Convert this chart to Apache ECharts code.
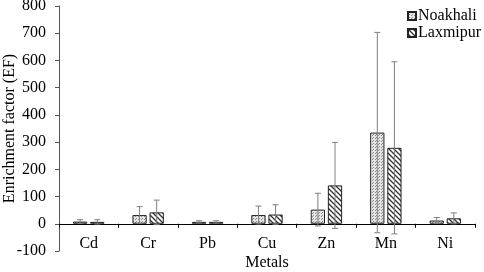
<!DOCTYPE html>
<html>
<head>
<meta charset="utf-8">
<script src="https://cdn.jsdelivr.net/npm/echarts@6/dist/echarts.min.js"></script>
<style>
  html, body { margin: 0; padding: 0; background: #fff; }
  #chart { width: 484px; height: 272px; }
</style>
</head>
<body>
<div id="chart"></div>
<script>
// metals and enrichment factor values
var metals = ['Cd', 'Cr', 'Pb', 'Cu', 'Zn', 'Mn', 'Ni'];
var noakhali = [8, 32, 7, 32, 52, 335, 12];
var noakhaliErr = [7, 31, 4, 33, 60, 368, 11];
var laxmipur = [7, 42, 7, 34, 141, 279, 20];
var laxmipurErr = [8, 45, 4, 36, 158, 316, 20];
var yTicks = [-100, 800, 100]; // min, max, interval

// fill patterns
function dotPattern(){
    var c = document.createElement('canvas');
    c.width = 3; c.height = 3;
    var ctx = c.getContext('2d');
    ctx.fillStyle = '#e6e6e6';
    ctx.fillRect(0, 0, 3, 3);
    ctx.fillStyle = '#8a8a8a';
    ctx.fillRect(0, 0, 1, 1);
    ctx.fillRect(1, 2, 1, 1);
    return c;
}
function hatchPattern(){
    var c = document.createElement('canvas');
    c.width = 5; c.height = 5;
    var ctx = c.getContext('2d');
    ctx.fillStyle = '#ffffff';
    ctx.fillRect(0, 0, 5, 5);
    ctx.strokeStyle = '#333';
    ctx.lineWidth = 1.3;
    ctx.beginPath();
    ctx.moveTo(-1, -1); ctx.lineTo(6, 6);
    ctx.moveTo(-1, 4); ctx.lineTo(1, 6);
    ctx.moveTo(4, -1); ctx.lineTo(6, 1);
    ctx.stroke();
    return c;
}

var font = 'Liberation Serif';

// error bar renderer, side = -1 left bar, +1 right bar
function errorBars(vals, errs, side){
    return function(params, api){
        var i = params.dataIndex;
        var band = api.size([1, 0])[0];
        var w = band * 0.24;
        var center = api.coord([i, vals[i]]);
        var x = center[0] + side * w * 0.6;
        var top = api.coord([i, vals[i] + errs[i]])[1];
        var bot = api.coord([i, vals[i] - errs[i]])[1];
        var cap = 3;
        var style = { stroke: '#7f7f7f', lineWidth: 1 };
        return {
            type: 'group',
            children: [
                { type: 'line', shape: { x1: x, y1: top, x2: x, y2: bot }, style: style },
                { type: 'line', shape: { x1: x - cap, y1: top, x2: x + cap, y2: top }, style: style },
                { type: 'line', shape: { x1: x - cap, y1: bot, x2: x + cap, y2: bot }, style: style }
            ]
        };
    };
}

var chart = echarts.init(document.getElementById('chart'));
var opts = {
    animation: false,
    grid: { left: 59, right: 9, top: 6, bottom: 21, outerBoundsMode: 'none', containLabel: false },
    legend: {
        orient: 'vertical',
        left: 402,
        top: 3,
        itemWidth: 8,
        itemHeight: 8,
        itemGap: 1,
        icon: 'rect',
        data: ['Noakhali', 'Laxmipur'],
        textStyle: { fontFamily: font, fontSize: 16, color: '#000', padding: [0, 0, 0, -3] }
    },
    xAxis: {
        type: 'category',
        data: metals,
        name: 'Metals',
        nameLocation: 'middle',
        nameGap: 4,
        nameMoveOverlap: false,
        nameTextStyle: { fontFamily: font, fontSize: 16, color: '#000' },
        axisLine: { onZero: true, lineStyle: { color: '#000', width: 1 } },
        axisTick: { show: true, length: 4, lineStyle: { color: '#000' } },
        axisLabel: { fontFamily: font, fontSize: 16, color: '#000', margin: -15 }
    },
    yAxis: {
        type: 'value',
        min: yTicks[0],
        max: yTicks[1],
        interval: yTicks[2],
        name: 'Enrichment factor (EF)',
        nameLocation: 'middle',
        nameGap: 41,
        nameMoveOverlap: false,
        nameTextStyle: { fontFamily: font, fontSize: 16, color: '#000' },
        axisLine: { show: true, lineStyle: { color: '#555', width: 1 } },
        axisTick: { show: true, length: 4, lineStyle: { color: '#555' } },
        axisLabel: { fontFamily: font, fontSize: 16, color: '#000', margin: 13 },
        splitLine: { show: false }
    },
    series: [
        {
            name: 'Noakhali',
            type: 'bar',
            data: noakhali,
            barWidth: '24%',
            barGap: '20%',
            itemStyle: { color: { image: dotPattern(), repeat: 'repeat' }, borderColor: '#222', borderWidth: 1 }
        },
        {
            name: 'Laxmipur',
            type: 'bar',
            data: laxmipur,
            barWidth: '24%',
            barGap: '20%',
            itemStyle: { color: { image: hatchPattern(), repeat: 'repeat' }, borderColor: '#222', borderWidth: 1 }
        },
        {
            type: 'custom',
            data: noakhali,
            z: 5,
            renderItem: errorBars(noakhali, noakhaliErr, -1)
        },
        {
            type: 'custom',
            data: laxmipur,
            z: 5,
            renderItem: errorBars(laxmipur, laxmipurErr, 1)
        }
    ]
};
chart.setOption(opts);
</script>
</body>
</html>
